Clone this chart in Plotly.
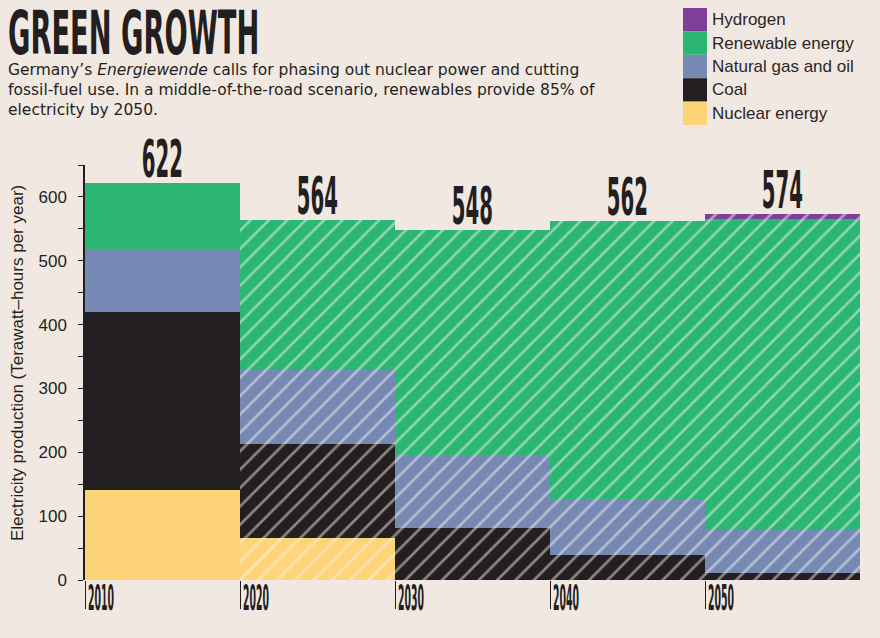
import plotly.graph_objects as go

# ---------------- data ----------------
years = [2010, 2020, 2030, 2040, 2050]
year_labels = ["2010", "2020", "2030", "2040", "2050"]
nuclear = [141, 66, 0, 0, 0]
coal = [279, 147, 82, 39, 11]
gas_oil = [99, 116, 114, 88, 68]
renewable = [103, 235, 352, 435, 487]
hydrogen = [0, 0, 0, 0, 8]
totals = [622, 564, 548, 562, 574]
hatched = [False, True, True, True, True]
subtitle_lines = [
    "Germany\u2019s <i>Energiewende</i> calls for phasing out nuclear power and cutting",
    "fossil-fuel use. In a middle-of-the-road scenario, renewables provide 85% of",
    "electricity by 2050.",
]

series = [
    ("Nuclear energy", nuclear, "#fdd578"),
    ("Coal", coal, "#231f20"),
    ("Natural gas and oil", gas_oil, "#7589b4"),
    ("Renewable energy", renewable, "#2bb673"),
    ("Hydrogen", hydrogen, "#7d3f98"),
]

BG = "#f2e8e2"
DARK = "#231f20"
HEAVY = "DejaVu Sans, sans-serif"
BODY = "Liberation Sans, Arial, sans-serif"
SUB = "DejaVu Sans, Liberation Sans, sans-serif"

W, H = 880, 638
L, R, T, B = 85, 20, 165, 58
PW, PH = W - L - R, H - T - B


def px(x):
    return (x - L) / PW


def py(y):
    return (H - B - y) / PH


fig = go.Figure()
for name, vals, col in series:
    fig.add_trace(go.Bar(
        x=years, y=vals, name=name, width=10, offset=0,
        marker=dict(
            color=col,
            line=dict(width=0),
            pattern=dict(
                shape=["/" if h else "" for h in hatched],
                fgcolor="#f8f2ee", bgcolor=col, fillmode="overlay",
                size=13, solidity=0.2,
            ),
        ),
        showlegend=False,
        hoverinfo="skip",
    ))

annotations = []
# totals above bars
for yr, tot in zip(years, totals):
    annotations.append(dict(
        x=yr + 5, y=tot, xref="x", yref="y", text=str(tot), showarrow=False,
        yanchor="bottom", xanchor="center", yshift=-8,
        font=dict(family=HEAVY, size=52, color=DARK, weight="bold"),
    ))
# x labels
for yr, lab in zip(years, year_labels):
    annotations.append(dict(
        x=yr, y=0, xref="x", yref="y", text=lab, showarrow=False,
        xanchor="left", yanchor="top", xshift=1, yshift=5,
        font=dict(family=HEAVY, size=36, color=DARK, weight="bold"),
    ))

# title & subtitle
annotations.append(dict(
    x=px(6), y=py(-4), xref="paper", yref="paper", text="GREEN GROWTH",
    showarrow=False, xanchor="left", yanchor="top",
    font=dict(family=HEAVY, size=60, color=DARK, weight="bold"),
))
annotations.append(dict(
    x=px(7), y=py(60), xref="paper", yref="paper", text="<br>".join(subtitle_lines),
    showarrow=False, xanchor="left", yanchor="top", align="left", borderpad=0,
    font=dict(family=SUB, size=15.5, color=DARK),
))
# y-axis title
annotations.append(dict(
    x=px(17), y=py(363), xref="paper", yref="paper",
    text="Electricity production (Terawatt\u2013hours per year)",
    showarrow=False, textangle=-90, xanchor="center", yanchor="middle",
    font=dict(family=BODY, size=17, color=DARK),
))

# legend (custom swatches)
shapes = []
legend_order = list(reversed(series))
sw_top, sw_h = 8, 23.4
for i, (name, vals, col) in enumerate(legend_order):
    y0 = sw_top + i * sw_h
    shapes.append(dict(
        type="rect", xref="paper", yref="paper",
        x0=px(683), x1=px(707), y0=py(y0 + sw_h), y1=py(y0),
        fillcolor=col, line=dict(width=0),
    ))
    annotations.append(dict(
        x=px(711), y=py(y0 + sw_h / 2), xref="paper", yref="paper", text=name,
        showarrow=False, xanchor="left", yanchor="middle", borderpad=0,
        font=dict(family=BODY, size=17, color="#2a2627"),
    ))

fig.update_layout(
    width=W, height=H,
    margin=dict(l=L, r=R, t=T, b=B, autoexpand=False),
    paper_bgcolor=BG, plot_bgcolor=BG,
    barmode="stack", bargap=0,
    annotations=annotations, shapes=shapes,
    showlegend=False,
)
fig.update_xaxes(
    range=[2010, 2060], tickvals=years, showticklabels=False,
    ticks="outside", ticklen=28, tickwidth=1, tickcolor=DARK,
    showgrid=False, zeroline=False, showline=False,
)
fig.update_yaxes(
    range=[0, 650], tickvals=[0, 100, 200, 300, 400, 500, 600],
    ticks="outside", ticklen=5, tickwidth=1, tickcolor=DARK,
    minor=dict(dtick=50, tick0=0, ticks="outside", ticklen=5, tickwidth=1, tickcolor=DARK),
    showline=True, linecolor=DARK, linewidth=1.5,
    showgrid=False, zeroline=False, ticklabelstandoff=8,
    tickfont=dict(family=BODY, size=17, color=DARK),
)

post = """
document.body.style.margin = '0';
var gd = document.getElementById('{plot_id}');
function squeeze() {
  gd.querySelectorAll('text.annotation-text').forEach(function (t) {
    var s = (t.textContent || '').trim();
    var k = null, o = 'left center';
    if (s === 'GREEN GROWTH') { k = 0.455; }
    else if (/^[0-9]{3}$/.test(s)) { k = 0.38; o = 'center center'; }
    else if (/^20[0-9]0$/.test(s)) { k = 0.26; }
    if (k !== null) {
      t.style.transformBox = 'fill-box';
      t.style.transformOrigin = o;
      t.style.transform = 'scaleX(' + k + ')';
    }
  });
}
squeeze();
if (gd.on) { gd.on('plotly_afterplot', squeeze); }
"""

fig.write_html("out.html", post_script=post, config={"displayModeBar": False})
